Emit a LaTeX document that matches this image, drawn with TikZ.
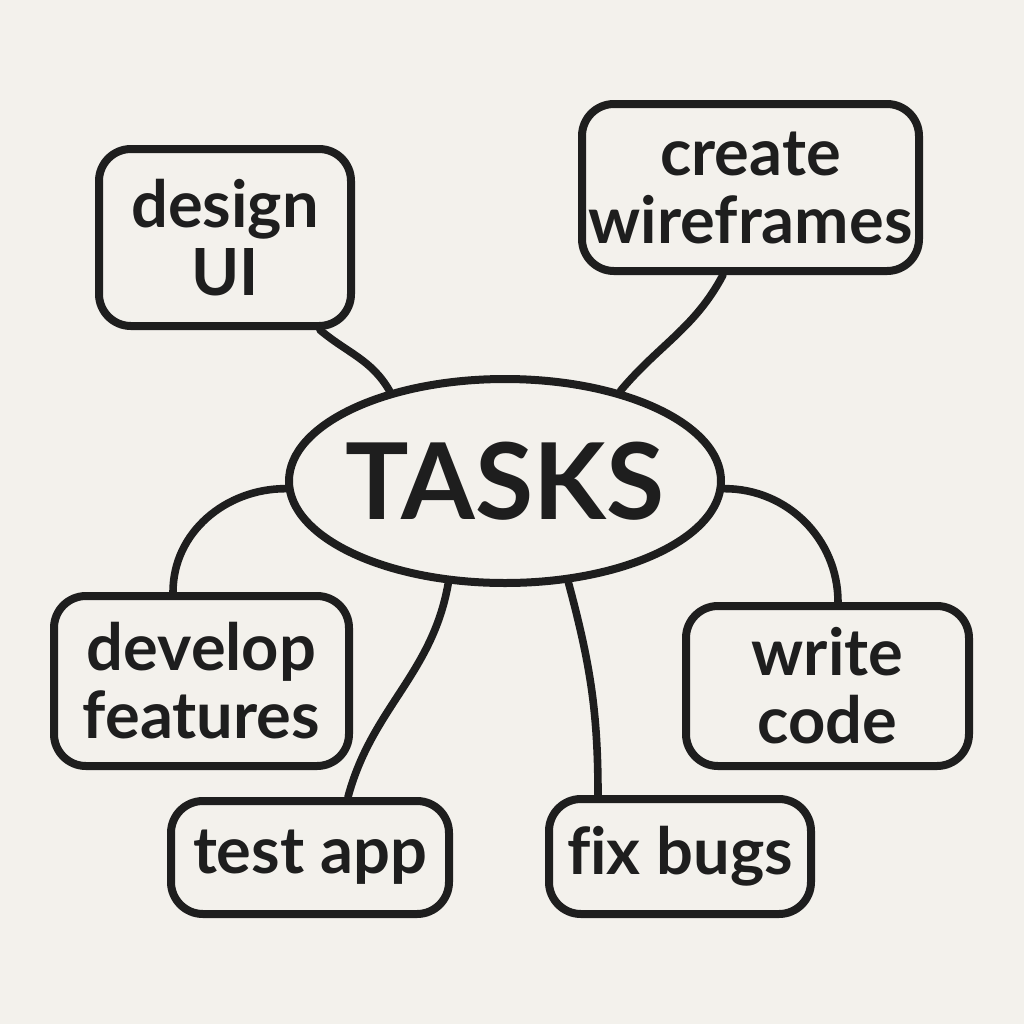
\documentclass[tikz,border=0pt]{standalone}
\usepackage{fontspec}
\setmainfont{Lato}[Ligatures=NoCommon]
\usetikzlibrary{shapes.geometric}
\definecolor{bgc}{HTML}{F3F1EC}
\definecolor{ink}{HTML}{1E1E1E}
\begin{document}
\begin{tikzpicture}[x=0.5pt,y=-0.5pt,
  taskbox/.style={draw=ink, line width=4pt, rounded corners=16pt, inner sep=0pt,
    align=center, text=ink, font=\fontsize{32.5}{34}\selectfont\bfseries},
  hub/.style={draw=ink, line width=4pt, ellipse, inner sep=0pt,
    minimum width=216pt, minimum height=102pt},
  hubtext/.style={text=ink, inner sep=0pt, font=\fontsize{53}{53}\selectfont\bfseries},
  link/.style={draw=ink, line width=3.8pt, line cap=round}]
\fill[bgc] (0,0) rectangle (1024,1024);
\useasboundingbox (0,0) rectangle (1024,1024);

\node[hub, label={[hubtext]center:TASKS}] (tasks) at (505,481) {};
\node[taskbox, minimum width=126pt, minimum height=88.5pt] (design) at (225,237.5) {design\\UI};
\node[taskbox, minimum width=168.5pt, minimum height=83.5pt] (wire) at (750.5,187.5) {create\\wireframes};
\node[taskbox, minimum width=147.5pt, minimum height=85pt] (develop) at (201.5,681) {develop\\features};
\node[taskbox, minimum width=141.5pt, minimum height=80pt] (write) at (827.5,686) {write\\code};
\node[taskbox, minimum width=139pt, minimum height=56.5pt] (test) at (310,857.5) {test app};
\node[taskbox, minimum width=131pt, minimum height=57.5pt] (fix) at (680,856.5) {fix bugs};

\draw[link] ([xshift=47.5pt]design.south) to[out=-40,in=120] (tasks.142);
\draw[link] ([xshift=-13.75pt]wire.south) to[out=-118,in=50] (tasks.38);
\draw[link] (tasks.182) to[out=180,in=90] ([xshift=-14.25pt]develop.north);
\draw[link] (tasks.358) to[out=0,in=90] ([xshift=5.25pt]write.north);
\draw[link] (tasks.241) to[out=-100,in=75] ([xshift=19pt]test.north);
\draw[link] (tasks.302) to[out=-75,in=90] ([xshift=-41pt]fix.north);
\end{tikzpicture}
\end{document}
